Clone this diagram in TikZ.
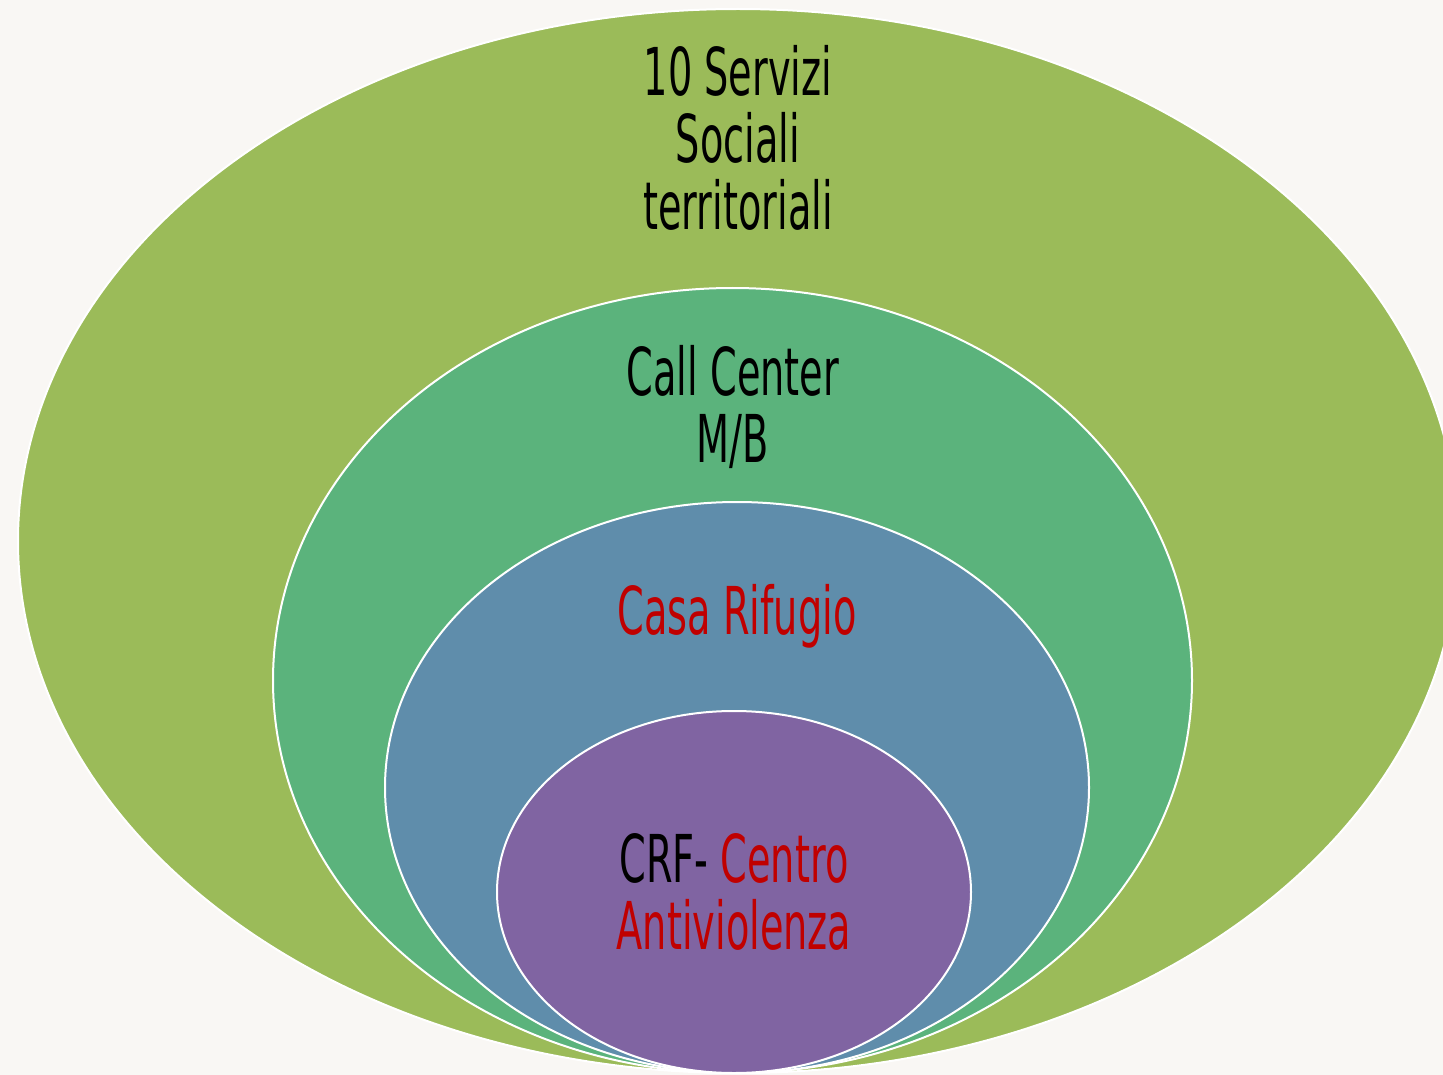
\documentclass[tikz,border=0pt]{standalone}
\usepackage{fontspec}
\usepackage{tikz}
\usetikzlibrary{shapes.geometric}
\newfontfamily\agency[FakeStretch=0.58]{DejaVu Sans}

\definecolor{paper}{HTML}{F9F7F4}
\definecolor{olive}{HTML}{9BBB59}
\definecolor{leaf}{HTML}{5BB37C}
\definecolor{steel}{HTML}{5F8DAB}
\definecolor{plum}{HTML}{8064A2}
\definecolor{crimson}{HTML}{C00000}

\tikzset{
  ring/.style={ellipse, draw=white, line width=2pt, inner sep=0pt},
  label/.style={align=center, inner sep=0pt, anchor=north,
    font=\agency\fontsize{66}{67}\selectfont}
}

\begin{document}
\begin{tikzpicture}[x=1pt, y=-1pt]
  \fill[paper] (0,0) rectangle (1443,1075);
  \useasboundingbox (0,0) rectangle (1443,1075);
  \clip (0,0) rectangle (1443,1075);

  % nested rings, all touching at the bottom
  \node[ring, fill=olive, minimum width=1440pt, minimum height=1064pt] (servizi) at (738,541) {};
  \node[ring, fill=leaf,  minimum width=919pt,  minimum height=785pt]  (callcenter) at (732.5,680.5) {};
  \node[ring, fill=steel, minimum width=704pt,  minimum height=571pt]  (rifugio) at (737,787.5) {};
  \node[ring, fill=plum,  minimum width=474pt,  minimum height=362pt]  (crf) at (734,892) {};

  % texts
  \node[label] (servizitext) at (738,45) {10 Servizi\\Sociali\\territoriali};
  \node[label] (calltext) at (733,345) {Call Center\\M/B};
  \node[label, text=crimson] (rifugiotext) at (737,584) {Casa Rifugio};
  \node[label] (crftext) at (734,833) {CRF- \textcolor{crimson}{Centro}\\\textcolor{crimson}{Antiviolenza}};
\end{tikzpicture}
\end{document}
